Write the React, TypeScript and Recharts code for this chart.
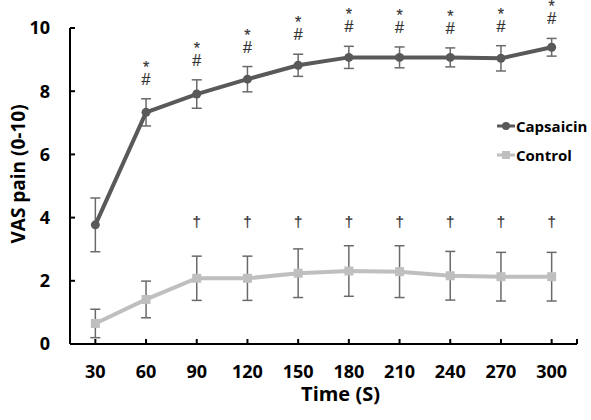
import { LineChart, Line, XAxis, YAxis, ErrorBar, LabelList, Legend } from 'recharts';

const times = [30, 60, 90, 120, 150, 180, 210, 240, 270, 300];
const capsaicin = [3.77, 7.33, 7.91, 8.38, 8.82, 9.07, 9.07, 9.07, 9.04, 9.39];
const capsaicinSd = [0.85, 0.43, 0.45, 0.4, 0.35, 0.35, 0.33, 0.3, 0.4, 0.28];
const control = [0.65, 1.41, 2.08, 2.08, 2.24, 2.31, 2.29, 2.16, 2.13, 2.13];
const controlSd = [0.45, 0.58, 0.7, 0.7, 0.77, 0.8, 0.82, 0.77, 0.77, 0.77];
// significance marks: * and # over capsaicin, † over control
const capsaicinMarks = [false, true, true, true, true, true, true, true, true, true];
const controlMarks = ['', '', '†', '†', '†', '†', '†', '†', '†', '†'];
const daggerLevel = 3.87;

const yTicks = [0, 2, 4, 6, 8, 10];
const xTicks = [...times, 315];

const CAP = '#595959';
const CTL = '#bfbfbf';
const BAR = '#6a6a6a';

const data = times.map((t, i) => ({
  time: t,
  capsaicin: capsaicin[i],
  capsaicinSd: capsaicinSd[i],
  capTop: capsaicin[i] + capsaicinSd[i],
  capMark: capsaicinMarks[i] ? '*#' : '',
  control: control[i],
  controlSd: controlSd[i],
  dagger: daggerLevel,
  ctlMark: controlMarks[i],
}));

const SquareDot = (props: any) => {
  const { cx, cy } = props;
  if (cx == null || cy == null) return null;
  return <rect x={cx - 4.5} y={cy - 4.5} width={9} height={9} fill={CTL} />;
};

const CapMark = (props: any) => {
  const { x, y, value } = props;
  if (!value) return null;
  return (
    <text
      x={x}
      y={y - 26}
      fill="#333"
      stroke="#333"
      strokeWidth={0.2}
      fontSize={16}
      fontFamily="Liberation Sans"
      textAnchor="middle"
    >
      <tspan x={x}>*</tspan>
      <tspan x={x} dy={12}>#</tspan>
    </text>
  );
};

const DaggerMark = (props: any) => {
  const { x, y, value } = props;
  if (!value) return null;
  return (
    <text
      x={x}
      y={y}
      dy={5}
      fill="#333"
      stroke="#333"
      strokeWidth={0.2}
      fontSize={15}
      fontFamily="Liberation Sans"
      textAnchor="middle"
    >
      {value}
    </text>
  );
};

const renderLegend = (props: any) => {
  const items = (props.payload || []).filter((p: any) => p.value === 'Capsaicin' || p.value === 'Control');
  return (
    <div style={{ fontFamily: 'Open Sans', fontWeight: 700, fontSize: 15, color: '#000' }}>
      {items.map((p: any) => (
        <div key={p.value} style={{ display: 'flex', alignItems: 'center', height: 29 }}>
          <svg width={18} height={12} style={{ marginRight: 1 }}>
            <line x1={0} y1={6} x2={18} y2={6} stroke={p.color} strokeWidth={3} />
            {p.value === 'Capsaicin' ? (
              <circle cx={9} cy={6} r={4} fill={p.color} />
            ) : (
              <rect x={5} y={2} width={8} height={8} fill={p.color} />
            )}
          </svg>
          <span>{p.value}</span>
        </div>
      ))}
    </div>
  );
};

export default function App() {
  return (
    <div style={{ position: 'absolute', left: 0, top: 0, width: 591, height: 420, background: '#fff' }}>
      <LineChart
        width={591}
        height={420}
        data={data}
        margin={{ top: 28, right: 14, bottom: 0, left: 0 }}
        style={{ fontFamily: 'Open Sans' }}
      >
        <XAxis
          dataKey="time"
          type="number"
          domain={[15, 315]}
          ticks={xTicks}
          interval={0}
          tickFormatter={(v: number) => (v > 300 ? '' : String(v))}
          height={76}
          axisLine={{ stroke: '#000', strokeWidth: 2 }}
          tickLine={{ stroke: '#000', strokeWidth: 2 }}
          tickSize={-5}
          tickMargin={26}
          tick={{ fill: '#000', fontSize: 18, fontWeight: 700 }}
          label={({ viewBox }: any) => (
            <text
              x={viewBox.x + viewBox.width / 2 + 17}
              y={viewBox.y + 57}
              textAnchor="middle"
              fontSize={20}
              fontWeight={700}
              fill="#000"
              fontFamily="Open Sans"
            >
              Time (S)
            </text>
          )}
        />
        <YAxis
          domain={[0, 10]}
          ticks={yTicks}
          width={70}
          axisLine={{ stroke: '#000', strokeWidth: 2 }}
          tickLine={{ stroke: '#000', strokeWidth: 2 }}
          tickSize={-5}
          tickMargin={25}
          tick={{ fill: '#000', fontSize: 18, fontWeight: 700 }}
          label={({ viewBox }: any) => (
            <text
              x={18}
              y={viewBox.y + viewBox.height / 2 - 12}
              transform={`rotate(-90 18 ${viewBox.y + viewBox.height / 2 - 12})`}
              textAnchor="middle"
              dominantBaseline="central"
              fontSize={19}
              fontWeight={700}
              fill="#000"
              fontFamily="Open Sans"
            >
              VAS pain (0-10)
            </text>
          )}
        />
        <Legend
          content={renderLegend}
          layout="vertical"
          verticalAlign="middle"
          align="center"
          wrapperStyle={{ top: 111, left: 497, width: 94 }}
        />
        <Line
          name="Control"
          dataKey="control"
          stroke={CTL}
          strokeWidth={4}
          dot={<SquareDot />}
          activeDot={false}
          isAnimationActive={false}
        >
          <ErrorBar dataKey="controlSd" width={5} stroke={BAR} strokeWidth={1.5} />
        </Line>
        <Line
          name="Capsaicin"
          dataKey="capsaicin"
          stroke={CAP}
          strokeWidth={4}
          dot={{ r: 4.5, fill: CAP, stroke: CAP, strokeWidth: 0 }}
          activeDot={false}
          isAnimationActive={false}
        >
          <ErrorBar dataKey="capsaicinSd" width={5} stroke={BAR} strokeWidth={1.5} />
        </Line>
        <Line
          dataKey="capTop"
          stroke="none"
          dot={false}
          activeDot={false}
          legendType="none"
          isAnimationActive={false}
        >
          <LabelList dataKey="capMark" content={<CapMark />} />
        </Line>
        <Line
          dataKey="dagger"
          stroke="none"
          dot={false}
          activeDot={false}
          legendType="none"
          isAnimationActive={false}
        >
          <LabelList dataKey="ctlMark" content={<DaggerMark />} />
        </Line>
      </LineChart>
    </div>
  );
}
